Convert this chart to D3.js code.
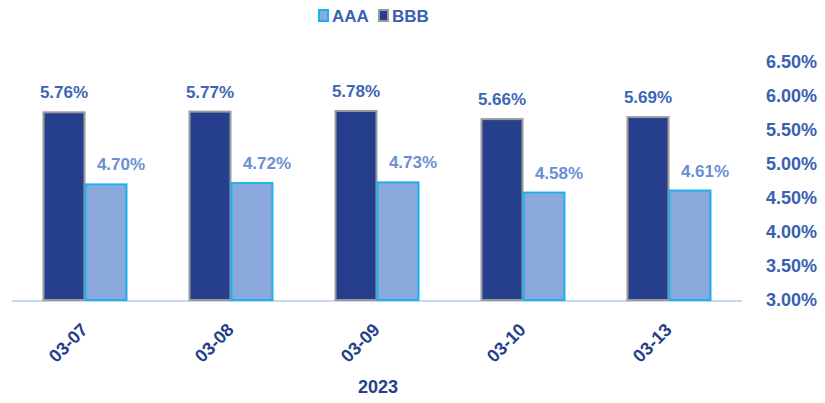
<!DOCTYPE html>
<html><head><meta charset="utf-8">
<script src="https://cdn.jsdelivr.net/npm/d3@7"></script>
<style>body{margin:0;background:#fff}svg{display:block}text{font-family:"Liberation Sans",Arial,sans-serif;font-weight:bold}</style>
</head><body><svg id="c" width="825" height="403"></svg>
<script>
const categories = ["03-07","03-08","03-09","03-10","03-13"];
const seriesNames = ["BBB","AAA"];
const bbb = [5.76,5.77,5.78,5.66,5.69];
const aaa = [4.70,4.72,4.73,4.58,4.61];
const yTicks = [3.0,3.5,4.0,4.5,5.0,5.5,6.0,6.5];
const xTitle = "2023";

const svg = d3.select("#c");
const y = d3.scaleLinear().domain([3,6.5]).range([300,62]);
const x = d3.scaleBand().domain(categories).range([12,742]).paddingInner(0.425).paddingOuter(0.2125);
const xs = d3.scaleBand().domain(seriesNames).range([0,x.bandwidth()]);
const colors = {BBB:{fill:"#253F8C",stroke:"#9A9A9A",label:"#3D66B6"},AAA:{fill:"#8BA8DC",stroke:"#19B2EE",label:"#6A8FD3"}};
const data = {BBB:bbb, AAA:aaa};

// baseline
svg.append("line").attr("x1",12).attr("x2",742).attr("y1",y(3)+1).attr("y2",y(3)+1)
  .attr("stroke","#C9D7EE").attr("stroke-width",2);

// right axis
const axis = d3.axisRight(y).tickValues(yTicks).tickFormat(d=>d3.format(".2f")(d)+"%").tickSize(0);
const ag = svg.append("g").attr("transform","translate(817,0)").call(axis);
ag.select(".domain").remove();
ag.selectAll("text").attr("x",0).attr("text-anchor","end").attr("fill","#3A60B1").attr("font-size",18)
  .attr("font-family","Liberation Sans, Arial, sans-serif").attr("font-weight","bold");

seriesNames.forEach(s=>{
  const g = svg.append("g");
  g.selectAll("rect").data(categories).join("rect")
    .attr("x",(d)=>x(d)+xs(s)+0.5)
    .attr("y",(d,i)=>y(data[s][i]))
    .attr("width",xs.bandwidth()-1)
    .attr("height",(d,i)=>y(3)-y(data[s][i]))
    .attr("fill",colors[s].fill).attr("stroke",colors[s].stroke).attr("stroke-width",2);
  g.selectAll("text").data(categories).join("text")
    .attr("x",(d)=>x(d)+xs(s)+xs.bandwidth()/2+(s==="AAA"?15:0))
    .attr("y",(d,i)=>y(data[s][i])-14)
    .attr("text-anchor","middle").attr("font-size",17).attr("fill",colors[s].label)
    .text((d,i)=>d3.format(".2f")(data[s][i])+"%");
});

// x labels
svg.selectAll("text.xl").data(categories).join("text").attr("class","xl")
  .attr("transform",d=>`translate(${x(d)+x.bandwidth()/2-5},${322}) rotate(-45)`)
  .attr("text-anchor","end").attr("dy","0.7em").attr("font-size",18).attr("fill","#253F8A").text(d=>d);

svg.append("text").attr("x",378).attr("y",393).attr("text-anchor","middle")
  .attr("font-size",18).attr("fill","#253F8A").text(xTitle);

// legend
const legend = [{n:"AAA",x:318},{n:"BBB",x:378}];
legend.forEach(l=>{
  svg.append("rect").attr("x",l.x+1).attr("y",10).attr("width",9).attr("height",11)
    .attr("fill",colors[l.n].fill).attr("stroke",colors[l.n].stroke).attr("stroke-width",2);
  svg.append("text").attr("x",l.x+14).attr("y",22).attr("font-size",17).attr("fill","#3A60B1").text(l.n);
});
</script></body></html>
